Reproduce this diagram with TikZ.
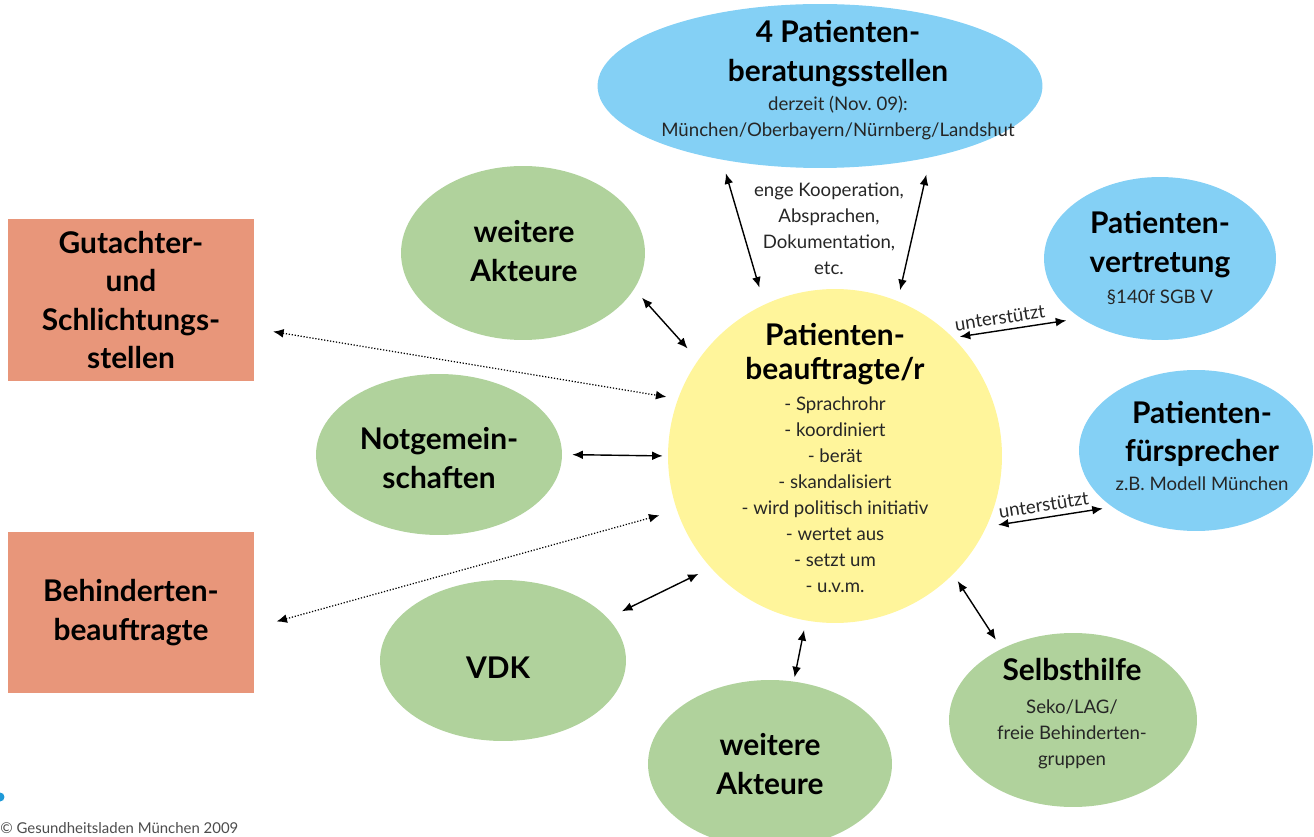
\documentclass[tikz,border=0pt]{standalone}
\usepackage{fontspec}
\setmainfont{Lato}
\usetikzlibrary{shapes.geometric,arrows.meta}

\definecolor{beratblue}{HTML}{84D0F5}
\definecolor{akteurgreen}{HTML}{B0D29C}
\definecolor{beaufyellow}{HTML}{FFF59B}
\definecolor{stellensalmon}{HTML}{E8967A}
\definecolor{logoblue}{HTML}{1E9AD8}

\newcommand\headfont{\fontsize{17}{21.9}\selectfont\bfseries\color{black}}
\newcommand\smallfont{\fontsize{10.6}{14.8}\selectfont}

\begin{document}
\begin{tikzpicture}[x=0.02cm, y=-0.02cm, >={Latex[length=6pt,width=5pt]},
    bubble/.style={ellipse, inner sep=0pt},
    blue bubble/.style={bubble, fill=beratblue},
    green bubble/.style={bubble, fill=akteurgreen, minimum width=4.92cm, minimum height=3.22cm},
    office/.style={rectangle, fill=stellensalmon, minimum width=4.92cm, minimum height=3.24cm,
      inner sep=0pt, align=center, font=\headfont},
    heading/.style={align=center, font=\headfont, inner sep=0pt},
    txt/.style={align=center, font=\smallfont, text=black!85, inner sep=0pt},
    link/.style={<->, line width=0.8pt},
    loose/.style={<->, line width=0.7pt, dash pattern=on 0.7pt off 1pt}]

  \useasboundingbox (0,0) rectangle (1314,837);

  \node [blue bubble, minimum width=8.9cm, minimum height=3.28cm] (pbs) at (820,86) {};
  \node [txt] (pbs-text) at (838,80)
    {{\headfont 4 Patienten-}\\[7.1pt]{\headfont beratungsstellen}\\[1.7pt]derzeit (Nov.~09):\\München/Oberbayern/Nürnberg/Landshut};

  \node [circle, fill=beaufyellow, minimum size=6.68cm, inner sep=0pt] (pb) at (835,456) {};
  \node [txt] (pb-text) at (835,458)
    {{\headfont Patienten-}\\[4.6pt]{\headfont beauftragte/r}\\[2.8pt]- Sprachrohr\\- koordiniert\\- berät\\- skandalisiert\\- wird politisch initiativ\\- wertet aus\\- setzt um\\- u.v.m.};

  \node [blue bubble, minimum width=4.64cm, minimum height=3.26cm] (pv) at (1160,258.5) {};
  \node [txt] (pv-text) at (1160,258) {{\headfont Patienten-}\\[7.1pt]{\headfont vertretung}\\[2.8pt]§140f SGB V};

  \node [blue bubble, minimum width=4.68cm, minimum height=3.22cm] (pf) at (1196,450.5) {};
  \node [txt] (pf-text) at (1202,446) {{\headfont Patienten-}\\[7.1pt]{\headfont fürsprecher}\\[1.7pt]z.B. Modell München};

  \node [green bubble, minimum width=4.88cm, minimum height=3.48cm] (wa1) at (523,253) {};
  \node [heading] (wa1-text) at (524,251) {weitere\\Akteure};

  \node [green bubble] (ng) at (439,454.5) {};
  \node [heading] (ng-text) at (439,458) {Notgemein-\\schaften};

  \node [green bubble] (vdk) at (503,660.5) {};
  \node [heading] (vdk-text) at (498,668) {VDK};

  \node [green bubble, minimum width=4.88cm, minimum height=3.36cm] (wa2) at (770,764) {};
  \node [heading] (wa2-text) at (770,764) {weitere\\Akteure};

  \node [green bubble, minimum width=4.96cm, minimum height=3.48cm] (sh) at (1073,720) {};
  \node [txt] (sh-text) at (1072,714) {{\headfont Selbsthilfe}\\[4pt]Seko/LAG/\\freie Behinderten-\\gruppen};

  \node [office] (gs) at (131,300) {Gutachter-\\und\\Schlichtungs-\\stellen};
  \node [office] (bb) at (131,612.5) {Behinderten-\\beauftragte};

  \node [txt] (koop) at (829,229) {enge Kooperation,\\Absprachen,\\Dokumentation,\\etc.};

  \fill [logoblue] (0,797) circle [radius=0.09cm];
  \node [anchor=base west, inner sep=0pt, font=\fontsize{8.5}{10}\selectfont, text=black!70] (copy) at (0,833)
    {© Gesundheitsladen München 2009};

  \draw [link, shorten <=0.28cm, shorten >=0.35cm] (pbs.217) -- (pb.115);
  \draw [link, shorten <=0.35cm, shorten >=0.22cm] (pbs.327) -- (pb.68);
  \draw [link, shorten <=0.23cm, shorten >=0.31cm] (wa1.342) -- (pb.145);
  \draw [loose, shorten <=0.38cm, shorten >=0.23cm] (gs.347) -- (pb.160);
  \draw [link, shorten <=0.2cm, shorten >=0.1cm] (ng.0) -- (pb.180);
  \draw [loose, shorten <=0.46cm, shorten >=0.36cm] (bb.353) -- (pb.199);
  \draw [link, shorten <=0.31cm, shorten >=0.27cm] (vdk.22) -- (pb.222);
  \draw [link, shorten <=0.08cm, shorten >=0.19cm] (wa2.74) -- (pb.260);
  \draw [link, shorten <=0.16cm, shorten >=0.21cm] (pb.315) -- (sh.135);
  \draw [link, shorten <=0.13cm, shorten >=0.29cm] (pb.45) -- (pv.217)
    node [txt, sloped, above=3pt, pos=0.38] (pv-label) {unterstützt};
  \draw [link, shorten <=0.23cm, shorten >=0.19cm] (pb.335) -- (pf.214)
    node [txt, sloped, above=3pt, pos=0.47] (pf-label) {unterstützt};

\end{tikzpicture}
\end{document}
